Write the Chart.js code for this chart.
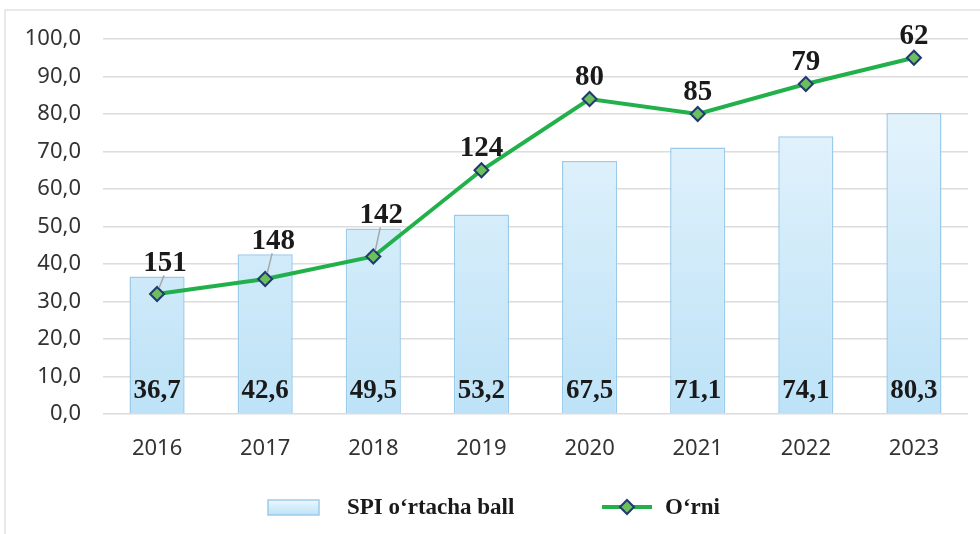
<!DOCTYPE html>
<html lang="uz">
<head>
    <meta charset="UTF-8">
    <title>SPI o‘rtacha ball va o‘rni</title>
    <script src="https://cdn.jsdelivr.net/npm/chart.js"></script>
    <style>
        body {
            margin: 0;
            background-color: #fff;
        }
        #wrap {
            width: 980px;
            height: 534px;
            position: relative;
        }
    </style>
</head>
<body>
    <div id="wrap"><canvas id="spiChart" width="980" height="534"></canvas></div>
    <script>
        // Yillar
        const years = ['2016', '2017', '2018', '2019', '2020', '2021', '2022', '2023'];
        // SPI o'rtacha ball (ustunlar)
        const spiScores = [36.7, 42.6, 49.5, 53.2, 67.5, 71.1, 74.1, 80.3];
        // O'rni – chiziq nuqtalarining balandligi (rasmdan o'qilgan)
        const rankLine = [32, 36, 42, 65, 84, 80, 88, 95];
        // O'rni – yozuvlar
        const rankLabels = ['151', '148', '142', '124', '80', '85', '79', '62'];
        // Y o'qi
        const yTicks = { min: 0, max: 100, step: 10 };

        const serif = '"Liberation Serif", "Times New Roman", serif';
        const sans = '"Noto Sans", "Open Sans", sans-serif';

        function barGradient(ctx, top, bottom) {
            const g = ctx.createLinearGradient(0, top, 0, bottom);
            g.addColorStop(0, '#ecf7fd');
            g.addColorStop(1, '#bde2f7');
            return g;
        }

        function drawDiamond(ctx, x, y, r) {
            ctx.beginPath();
            ctx.moveTo(x, y - r);
            ctx.lineTo(x + r, y);
            ctx.lineTo(x, y + r);
            ctx.lineTo(x - r, y);
            ctx.closePath();
            ctx.fillStyle = '#6cbf5c';
            ctx.fill();
            ctx.lineWidth = 2;
            ctx.strokeStyle = '#203a72';
            ctx.stroke();
        }

        // ramka, yozuvlar va legenda
        const labelsPlugin = {
            id: 'labelsPlugin',
            beforeDraw(chart) {
                const ctx = chart.ctx;
                ctx.save();
                ctx.strokeStyle = '#e2e2e2';
                ctx.lineWidth = 1.5;
                ctx.beginPath();
                ctx.moveTo(5, chart.height);
                ctx.lineTo(5, 10);
                ctx.lineTo(chart.width, 10);
                ctx.stroke();
                ctx.restore();
            },
            afterDatasetsDraw(chart) {
                const ctx = chart.ctx;
                const bars = chart.getDatasetMeta(0).data;
                const points = chart.getDatasetMeta(1).data;
                ctx.save();
                ctx.textAlign = 'center';
                ctx.textBaseline = 'alphabetic';

                // ustun qiymatlari
                ctx.font = 'bold 27px ' + serif;
                ctx.fillStyle = '#1a1a1a';
                bars.forEach((bar, i) => {
                    const txt = spiScores[i].toFixed(1).replace('.', ',');
                    ctx.fillText(txt, bar.x, bar.base - 15);
                });

                // o'rni yozuvlari
                ctx.font = 'bold 29px ' + serif;
                points.forEach((pt, i) => {
                    const barTop = bars[i].y;
                    let bottom = pt.y - 14;
                    const lifted = barTop - 5 < bottom;
                    if (lifted) {
                        bottom = barTop - 5;
                        ctx.strokeStyle = '#a8a8a8';
                        ctx.lineWidth = 1.5;
                        ctx.beginPath();
                        ctx.moveTo(pt.x + 7, bottom + 4);
                        ctx.lineTo(pt.x + 2, pt.y - 6);
                        ctx.stroke();
                    }
                    ctx.fillStyle = '#1a1a1a';
                    ctx.fillText(rankLabels[i], pt.x + (lifted ? 8 : 0), bottom);
                });
                ctx.restore();
            },
            afterDraw(chart) {
                const ctx = chart.ctx;
                const ly = 507;
                ctx.save();
                // ustun belgisi
                ctx.fillStyle = barGradient(ctx, ly - 7, ly + 8);
                ctx.fillRect(268, ly - 7, 51, 15);
                ctx.strokeStyle = '#9ccbe9';
                ctx.lineWidth = 1.5;
                ctx.strokeRect(268, ly - 7, 51, 15);
                ctx.font = 'bold 23px ' + serif;
                ctx.fillStyle = '#1a1a1a';
                ctx.textBaseline = 'middle';
                ctx.textAlign = 'left';
                ctx.fillText(chart.data.datasets[0].label, 347, ly + 1);
                // chiziq belgisi
                ctx.strokeStyle = '#22b04b';
                ctx.lineWidth = 4;
                ctx.beginPath();
                ctx.moveTo(602, ly);
                ctx.lineTo(652, ly);
                ctx.stroke();
                drawDiamond(ctx, 627, ly, 7);
                ctx.fillStyle = '#1a1a1a';
                ctx.fillText(chart.data.datasets[1].label, 665, ly + 1);
                ctx.restore();
            }
        };

        const ctx = document.getElementById('spiChart').getContext('2d');
        new Chart(ctx, {
            data: {
                labels: years,
                datasets: [
                    {
                        type: 'bar',
                        label: 'SPI o‘rtacha ball',
                        data: spiScores,
                        backgroundColor: (c) => {
                            const area = c.chart.chartArea;
                            if (!area) return '#d5ecfa';
                            return barGradient(c.chart.ctx, area.top, area.bottom);
                        },
                        borderColor: '#9ccbe9',
                        borderWidth: 1.5,
                        barPercentage: 0.51,
                        categoryPercentage: 1,
                        order: 1
                    },
                    {
                        type: 'line',
                        label: 'O‘rni',
                        data: rankLine,
                        borderColor: '#22b04b',
                        borderWidth: 4,
                        pointStyle: 'rectRot',
                        pointRadius: 7,
                        pointBackgroundColor: '#6cbf5c',
                        pointBorderColor: '#203a72',
                        pointBorderWidth: 2,
                        tension: 0,
                        order: 0
                    }
                ]
            },
            options: {
                responsive: false,
                animation: false,
                layout: {
                    padding: { left: 0, right: 12, top: 39, bottom: 70 }
                },
                plugins: {
                    legend: { display: false },
                    tooltip: { enabled: false }
                },
                scales: {
                    x: {
                        grid: { display: false },
                        border: { display: false },
                        ticks: {
                            color: '#333',
                            font: { family: sans, size: 22 },
                            padding: 14
                        },
                        afterFit(scale) { scale.height = 50; }
                    },
                    y: {
                        min: yTicks.min,
                        max: yTicks.max,
                        grid: { color: '#dcdcdc', lineWidth: 1.5, drawTicks: false },
                        border: { display: false },
                        ticks: {
                            stepSize: yTicks.step,
                            color: '#333',
                            font: { family: sans, size: 22 },
                            padding: 22,
                            callback: (v) => v.toFixed(1).replace('.', ',')
                        },
                        afterFit(scale) { scale.width = 103; }
                    }
                }
            },
            plugins: [labelsPlugin]
        });
    </script>
</body>
</html>
